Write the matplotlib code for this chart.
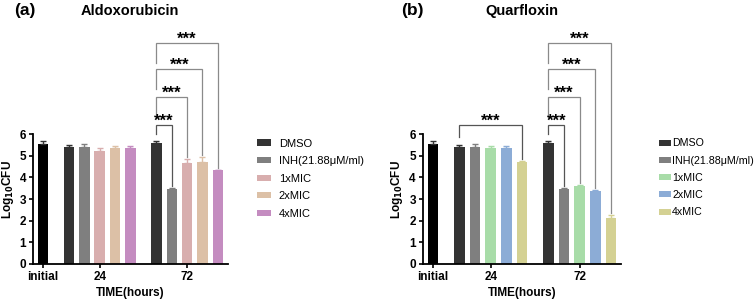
import numpy as np
import matplotlib
matplotlib.use('Agg')
import matplotlib.pyplot as plt

plt.rcParams['font.family'] = ['Liberation Sans', 'DejaVu Sans']

# ---- data -----------------------------------------------------------------
groups = ['DMSO', 'INH(21.88\u03bcM/ml)', '1xMIC', '2xMIC', '4xMIC']
time_labels = ['initial', '24', '72']

initial_mean = 5.55
initial_err = 0.12

aldo_24 = [5.42, 5.40, 5.20, 5.35, 5.35]
aldo_24_err = [0.08, 0.15, 0.15, 0.10, 0.10]
aldo_72 = [5.58, 3.48, 4.68, 4.72, 4.32]
aldo_72_err = [0.10, 0.02, 0.18, 0.20, 0.03]

quar_24 = [5.42, 5.40, 5.35, 5.35, 4.72]
quar_24_err = [0.08, 0.15, 0.10, 0.10, 0.05]
quar_72 = [5.58, 3.48, 3.62, 3.38, 2.10]
quar_72_err = [0.10, 0.02, 0.04, 0.02, 0.15]

aldo_colors = ['#333333', '#7f7f7f', '#d8aeae', '#dcc0a6', '#c48cc0']
quar_colors = ['#333333', '#7f7f7f', '#a8dca8', '#8cacd6', '#d4d193']

# bracket levels (y) for the 72 h comparisons DMSO vs each treatment
bracket_levels = [6.4, 7.7, 9.0, 10.2]


def draw_bracket(ax, x1, x2, y, left_bottom, right_bottom, color='#666666'):
    ax.plot([x1, x1, x2, x2], [left_bottom, y, y, right_bottom],
            color=color, lw=0.9, clip_on=False, solid_joinstyle='miter')
    ax.text((x1 + x2) / 2, y - 0.02, '***', ha='center', va='baseline',
            fontsize=12, fontweight='bold', clip_on=False)


def panel(ax, vals24, err24, vals72, err72, colors, brackets24=False,
          leg_x=1.13, leg_pad=0.7, leg_len=1.25, leg_fs=8):
    width = 0.68
    pos24 = 1.7 + np.arange(5)
    pos72 = 7.4 + np.arange(5)

    ax.bar(0, initial_mean, width, color='black')
    ax.errorbar(0, initial_mean, yerr=[[0], [initial_err]], fmt='none',
                ecolor='#333333', elinewidth=1, capsize=2.5, capthick=1)

    for i in range(5):
        ax.bar(pos24[i], vals24[i], width, color=colors[i], label=groups[i])
        ax.bar(pos72[i], vals72[i], width, color=colors[i])
        ax.errorbar(pos24[i], vals24[i], yerr=[[0], [err24[i]]], fmt='none',
                    ecolor=colors[i], elinewidth=1, capsize=2.5, capthick=1)
        ax.errorbar(pos72[i], vals72[i], yerr=[[0], [err72[i]]], fmt='none',
                    ecolor=colors[i], elinewidth=1, capsize=2.5, capthick=1)

    # significance brackets at 72 h
    for k in range(4):
        j = k + 1
        y = bracket_levels[k]
        lb = 6.0 if k == 0 else y - 0.9
        rb = vals72[j] + err72[j] + 0.1
        col = '#555555' if k == 0 else '#8a8a8a'
        draw_bracket(ax, pos72[0], pos72[j], y, lb, rb, color=col)

    if brackets24:
        draw_bracket(ax, pos24[0], pos24[4], 6.4, 5.85,
                     vals24[4] + err24[4] + 0.1, color='#555555')

    ax.set_xlim(-0.65, 12.05)
    ax.set_ylim(0, 6)
    ax.set_xticks([0, pos24[2], pos72[2]])
    ax.set_xticklabels(time_labels, fontweight='bold', fontsize=8.5)
    ax.set_yticks(range(0, 7))
    ax.set_yticklabels([str(v) for v in range(0, 7)], fontweight='bold', fontsize=8.5)
    ax.tick_params(direction='out', length=3, width=1.2, pad=2)
    for s in ['top', 'right']:
        ax.spines[s].set_visible(False)
    for s in ['left', 'bottom']:
        ax.spines[s].set_linewidth(1.3)
    ax.set_xlabel('TIME(hours)', fontweight='bold', fontsize=8.5, labelpad=3)
    ax.set_ylabel(r'Log$_{\mathbf{10}}$CFU', fontweight='bold', fontsize=8.5)
    ax.yaxis.set_label_coords(-0.088, 0.57)

    ax.legend(loc='upper left', bbox_to_anchor=(leg_x, 1.0), frameon=False,
              fontsize=leg_fs, handlelength=leg_len, handleheight=0.5,
              labelspacing=0.68, handletextpad=leg_pad, borderaxespad=0)


fig = plt.figure(figsize=(7.55, 3.02), dpi=100)
ax1 = fig.add_axes([0.0437, 0.126, 0.258, 0.43])
ax2 = fig.add_axes([0.560, 0.126, 0.2625, 0.43])

panel(ax1, aldo_24, aldo_24_err, aldo_72, aldo_72_err, aldo_colors,
      leg_x=1.127, leg_pad=0.7)
panel(ax2, quar_24, quar_24_err, quar_72, quar_72_err, quar_colors,
      brackets24=True, leg_x=1.172, leg_pad=0.1, leg_len=1.1, leg_fs=7.7)

fig.text(0.033, 0.965, '(a)', fontsize=12.5, fontweight='bold', ha='center', va='center')
fig.text(0.172, 0.965, 'Aldoxorubicin', fontsize=10.5, fontweight='bold', ha='center', va='center')
fig.text(0.546, 0.965, '(b)', fontsize=12.5, fontweight='bold', ha='center', va='center')
fig.text(0.691, 0.965, 'Quarfloxin', fontsize=10.5, fontweight='bold', ha='center', va='center')

fig.savefig('out.png', dpi=100)
